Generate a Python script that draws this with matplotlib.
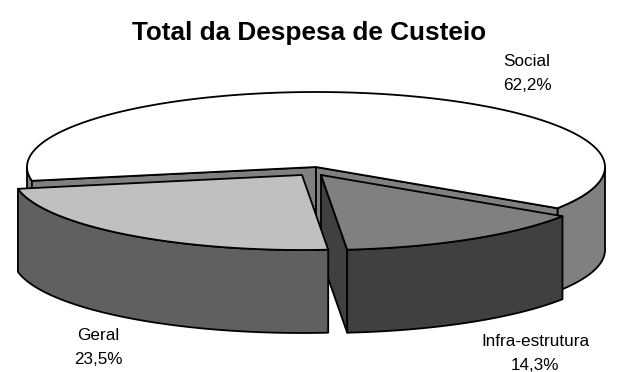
import numpy as np
import matplotlib
matplotlib.use("Agg")
import matplotlib.pyplot as plt

categories = ["Social", "Infra-estrutura", "Geral"]
values = [62.2, 14.3, 23.5]
value_labels = ["62,2%", "14,3%", "23,5%"]
title = "Total da Despesa de Custeio"

top_colors = ["#ffffff", "#808080", "#c0c0c0"]
side_colors = ["#808080", "#404040", "#606060"]
offsets = [(0, 0), (5, 8), (-14, 8)]
label_xy = [(527, 62, 85), (535, 342, 366), (98, 336, 360)]

CX, CY, RX, RY, DEPTH = 316, 167, 289, 75, 83
START = 190.6
LW = 1.3

plt.rcParams['font.family'] = ['Liberation Sans', 'DejaVu Sans']
W, H = 619, 372
fig = plt.figure(figsize=(W / 100, H / 100), dpi=100)
ax = fig.add_axes([0, 0, 1, 1])
ax.set_xlim(0, W)
ax.set_ylim(H, 0)
ax.axis("off")

# clockwise slice angles from the values
total = sum(values)
spans = [v / total * 360 for v in values]
edges = START - np.concatenate([[0], np.cumsum(spans)])


def pt(a, ox=0, oy=0):
    r = np.radians(a)
    return CX + ox + RX * np.cos(r), CY + oy - RY * np.sin(r)


def poly(xs, ys, c, z):
    ax.fill(xs, ys, facecolor=c, edgecolor="black", linewidth=LW,
            joinstyle="round", zorder=z)


def arc(a0, a1, ox, oy):
    return pt(np.linspace(a0, a1, 200), ox, oy)


def side(a0, a1, ox, oy, c, z):
    x, y = arc(a0, a1, ox, oy)
    poly(np.r_[x, x[::-1]], np.r_[y, (y + DEPTH)[::-1]], c, z)


def wall(a, ox, oy, c, z):
    x, y = pt(a, ox, oy)
    px, py = CX + ox, CY + oy
    poly([px, x, x, px], [py, y, y + DEPTH, py + DEPTH], c, z)


for i, cat in enumerate(categories):
    a0, a1 = edges[i], edges[i + 1]
    ox, oy = offsets[i]
    z = 1 if i == 0 else 5 + i
    if i == 0:
        # Social: outer face only where it faces the viewer, plus both cut walls
        side(a1, 0, ox, oy, side_colors[i], z)
        side(180, a0, ox, oy, side_colors[i], z)
        wall(a0, ox, oy, side_colors[i], z + 0.1)
        wall(a1, ox, oy, side_colors[i], z + 0.1)
    else:
        if i == 1:
            wall(a1, ox, oy, side_colors[i], z)
        side(a0, a1, ox, oy, side_colors[i], z + 0.1)
    x, y = arc(a0, a1, ox, oy)
    poly(np.r_[CX + ox, x], np.r_[CY + oy, y], top_colors[i], z + 0.2)

ax.text(309, 33, title, ha="center", va="center", fontsize=18.8,
        fontweight="bold", color="black", zorder=20)
for cat, val, (lx, y0, y1) in zip(categories, value_labels, label_xy):
    ax.text(lx, y0, cat, ha="center", va="center", fontsize=12.3, zorder=20)
    ax.text(lx, y1, val, ha="center", va="center", fontsize=12.3, zorder=20)

fig.savefig("out.png", dpi=100, facecolor="white")
